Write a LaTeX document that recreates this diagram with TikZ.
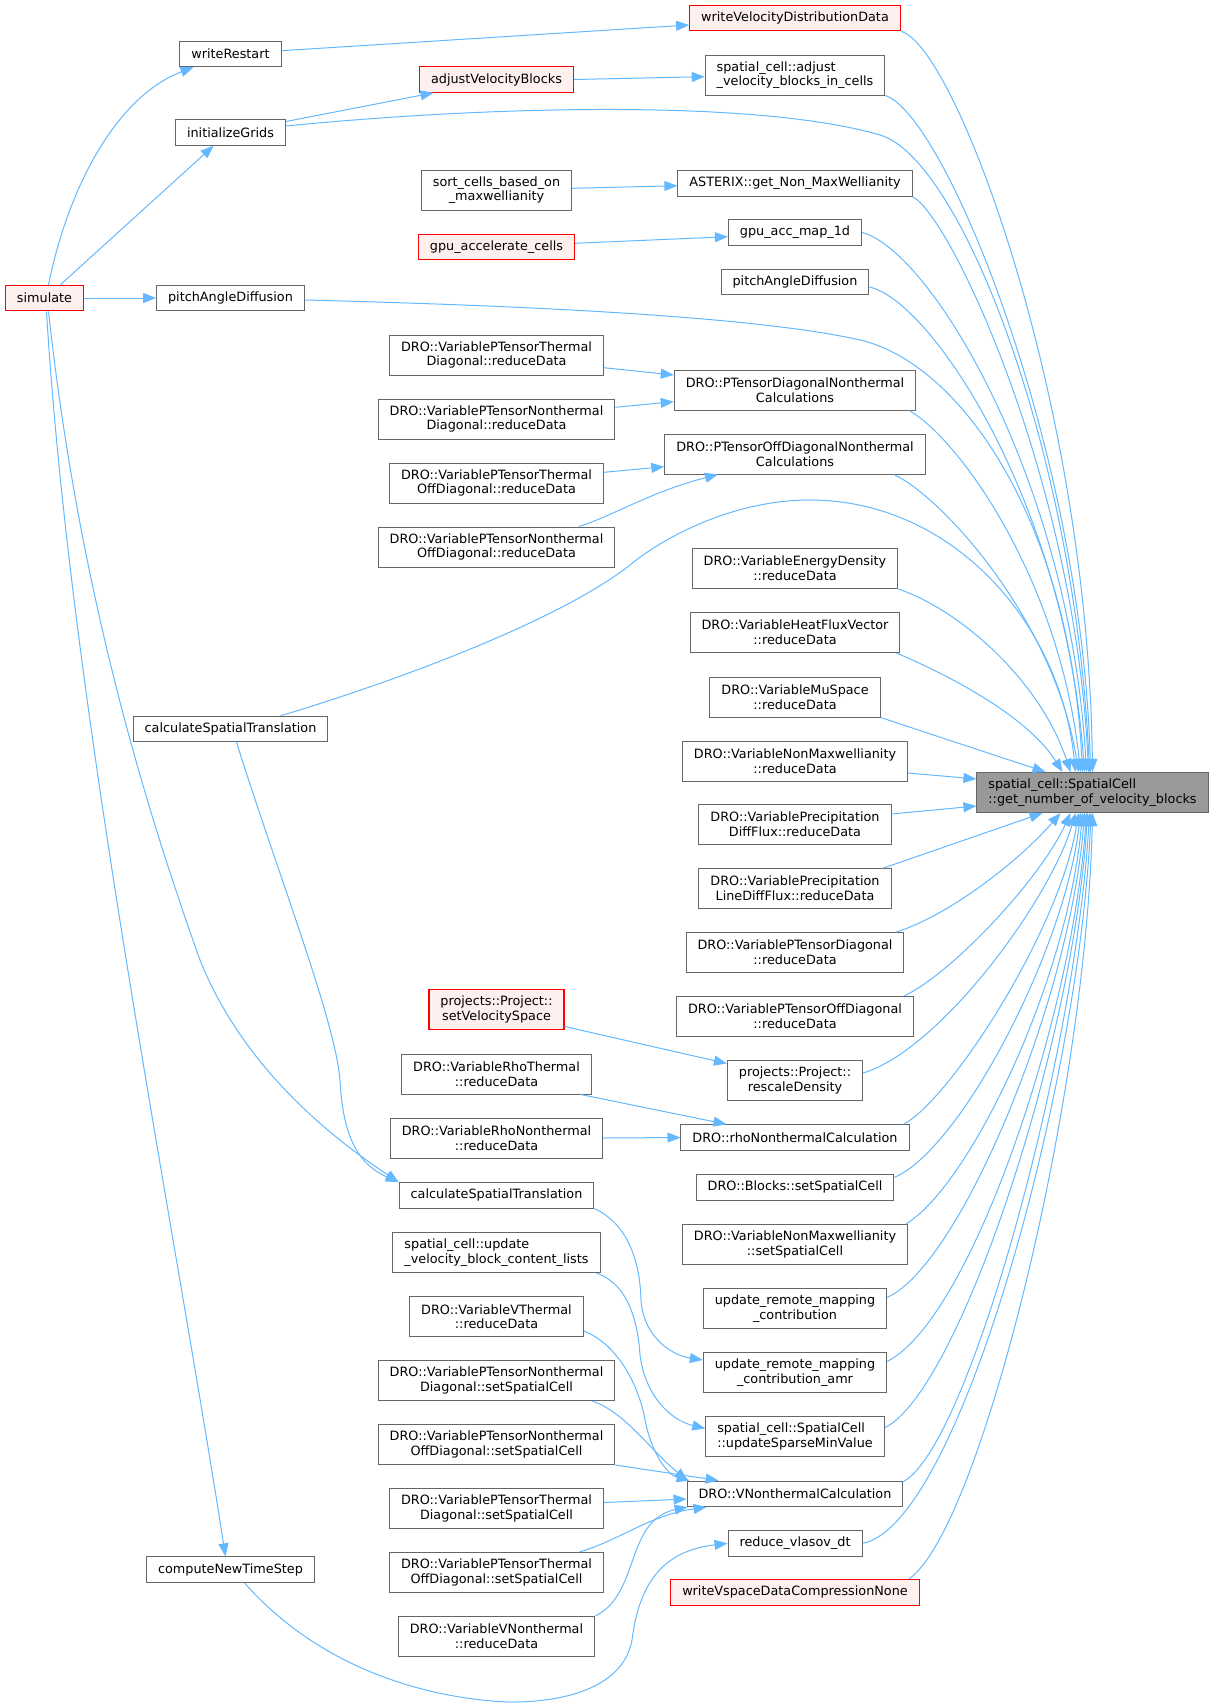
\documentclass[tikz,border=0pt]{standalone}
\usepackage{fontspec}
\setmainfont{DejaVu Sans}
\usetikzlibrary{arrows.meta}
\definecolor{edgeblue}{HTML}{63B8FF}
\definecolor{boxgrey}{HTML}{666666}
\definecolor{redfill}{HTML}{FFF0F0}
\definecolor{targetfill}{HTML}{999999}
\begin{document}
\begin{tikzpicture}[x=1pt,y=-1pt,>={Triangle[length=13pt,width=10pt]},
  box/.style={draw=boxgrey,line width=1pt,fill=white,font=\fontsize{12.8}{14.6}\selectfont,
    inner xsep=11.5pt,inner ysep=2pt,minimum height=25.5pt},
  twoline/.style={box,minimum height=40pt,align=center},
  leftline/.style={box,minimum height=40pt,align=left},
  redbox/.style={draw=red,fill=redfill,line width=1.2pt},
  call/.style={->,draw=edgeblue,line width=1pt}]

\useasboundingbox (0,0) rectangle (1216,1708);

\node[box,redbox] (simulate) at (44.5,298) {simulate};
\node[box] (writeRestart) at (230.5,54) {writeRestart};
\node[box] (initGrids) at (230.5,132.5) {initializeGrids};
\node[box] (pitchLeft) at (230.5,298) {pitchAngleDiffusion};
\node[box] (calcLeft) at (230.5,729) {calculateSpatialTranslation};
\node[box] (newTimeStep) at (230.5,1569.6) {computeNewTimeStep};

\node[box,redbox] (adjBlocks) at (496.5,79.5) {adjustVelocityBlocks};
\node[twoline] (sortCells) at (496.5,190) {sort\_cells\_based\_on\\\_maxwellianity};
\node[box,redbox] (gpuCells) at (496.5,247) {gpu\_accelerate\_cells};
\node[twoline] (ptThDiagRed) at (496.5,355) {DRO::VariablePTensorThermal\\Diagonal::reduceData};
\node[twoline] (ptNthDiagRed) at (496.5,419) {DRO::VariablePTensorNonthermal\\Diagonal::reduceData};
\node[twoline] (ptThOffRed) at (496.5,483) {DRO::VariablePTensorThermal\\OffDiagonal::reduceData};
\node[twoline] (ptNthOffRed) at (496.5,547) {DRO::VariablePTensorNonthermal\\OffDiagonal::reduceData};
\node[twoline,redbox] (setVelSpace) at (496.5,1009.5) {projects::Project::\\setVelocitySpace};
\node[twoline] (rhoThRed) at (496.5,1074) {DRO::VariableRhoThermal\\::reduceData};
\node[twoline] (rhoNthRed) at (496.5,1138) {DRO::VariableRhoNonthermal\\::reduceData};
\node[box] (calcMid) at (496.5,1195.3) {calculateSpatialTranslation};
\node[leftline] (updContent) at (496.5,1252.6) {spatial\_cell::update\\\_velocity\_block\_content\_lists};
\node[twoline] (vThRed) at (496.5,1316.6) {DRO::VariableVThermal\\::reduceData};
\node[twoline] (ptNthDiagSet) at (496.5,1380.5) {DRO::VariablePTensorNonthermal\\Diagonal::setSpatialCell};
\node[twoline] (ptNthOffSet) at (496.5,1444.5) {DRO::VariablePTensorNonthermal\\OffDiagonal::setSpatialCell};
\node[twoline] (ptThDiagSet) at (496.5,1508.5) {DRO::VariablePTensorThermal\\Diagonal::setSpatialCell};
\node[twoline] (ptThOffSet) at (496.5,1572.5) {DRO::VariablePTensorThermal\\OffDiagonal::setSpatialCell};
\node[twoline] (vNthRed) at (496.5,1636.4) {DRO::VariableVNonthermal\\::reduceData};

\node[box,redbox] (writeVdd) at (795,18) {writeVelocityDistributionData};
\node[leftline] (adjCells) at (795,75) {spatial\_cell::adjust\\\_velocity\_blocks\_in\_cells};
\node[box] (asterix) at (795,183.5) {ASTERIX::get\_Non\_MaxWellianity};
\node[box] (gpuMap) at (795,232.5) {gpu\_acc\_map\_1d};
\node[box] (pitchRight) at (795,282) {pitchAngleDiffusion};
\node[twoline] (ptDiagCalc) at (795,390) {DRO::PTensorDiagonalNonthermal\\Calculations};
\node[twoline] (ptOffCalc) at (795,454) {DRO::PTensorOffDiagonalNonthermal\\Calculations};
\node[twoline] (energyRed) at (795,568.5) {DRO::VariableEnergyDensity\\::reduceData};
\node[twoline] (heatRed) at (795,632.5) {DRO::VariableHeatFluxVector\\::reduceData};
\node[twoline] (muRed) at (795,697) {DRO::VariableMuSpace\\::reduceData};
\node[twoline] (nonMaxRed) at (795,761) {DRO::VariableNonMaxwellianity\\::reduceData};
\node[twoline] (precipRed) at (795,824.5) {DRO::VariablePrecipitation\\DiffFlux::reduceData};
\node[twoline] (lineRed) at (795,888.5) {DRO::VariablePrecipitation\\LineDiffFlux::reduceData};
\node[twoline] (ptDiagRed) at (795,952.5) {DRO::VariablePTensorDiagonal\\::reduceData};
\node[twoline] (ptOffRed) at (795,1016.5) {DRO::VariablePTensorOffDiagonal\\::reduceData};
\node[twoline] (rescale) at (795,1080.5) {projects::Project::\\rescaleDensity};
\node[box] (rhoCalc) at (795,1137.5) {DRO::rhoNonthermalCalculation};
\node[box] (blocksSet) at (795,1187.3) {DRO::Blocks::setSpatialCell};
\node[twoline] (nonMaxSet) at (795,1244.4) {DRO::VariableNonMaxwellianity\\::setSpatialCell};
\node[twoline] (remoteMap) at (795,1308.5) {update\_remote\_mapping\\\_contribution};
\node[twoline] (remoteAmr) at (795,1372.5) {update\_remote\_mapping\\\_contribution\_amr};
\node[leftline] (sparseMin) at (795,1436.5) {spatial\_cell::SpatialCell\\::updateSparseMinValue};
\node[box] (vCalc) at (795,1493.8) {DRO::VNonthermalCalculation};
\node[box] (vlasovDt) at (795,1543.4) {reduce\_vlasov\_dt};
\node[box,redbox] (writeVspace) at (795,1592.4) {writeVspaceDataCompressionNone};

\node[leftline,fill=targetfill] (numBlocks) at (1092.5,792.5) {spatial\_cell::SpatialCell\\::get\_number\_of\_velocity\_blocks};

\draw[call] ([yshift=3.3]writeRestart.east) -- ([yshift=-7]writeVdd.west);
\draw[call] ([xshift=4]simulate.north) .. controls (70,180) and (120,95) .. ([xshift=-37]writeRestart.south);
\draw[call] ([xshift=16]simulate.north) -- ([xshift=-17]initGrids.south);
\draw[call] ([yshift=11]initGrids.east) -- ([xshift=-63]adjBlocks.south);
\draw[call] (adjBlocks.east) -- ([yshift=-1.7]adjCells.west);
\draw[call] ([yshift=1.7]sortCells.east) -- ([yshift=-2.2]asterix.west);
\draw[call] ([yshift=3.7]gpuCells.east) -- ([yshift=-4.2]gpuMap.west);
\draw[call] (simulate.east) -- (pitchLeft.west);
\draw[call] ([yshift=-12.7]ptThDiagRed.east) -- ([yshift=15]ptDiagCalc.west);
\draw[call] ([yshift=11.7]ptNthDiagRed.east) -- ([yshift=-11.7]ptDiagCalc.west);
\draw[call] ([yshift=10.7]ptThOffRed.east) -- ([yshift=-12.7]ptOffCalc.west);
\draw[call] ([xshift=82.5]ptNthOffRed.north) .. controls (615,515) and (650,492) .. ([xshift=-77]ptOffCalc.south);
\draw[call] ([yshift=-17]setVelSpace.east) -- ([yshift=17]rescale.west);
\draw[call] ([xshift=-11]rhoThRed.south east) -- ([xshift=46]rhoCalc.north west);
\draw[call] (rhoNthRed.east) -- (rhoCalc.west);
\draw[call] ([xshift=2]simulate.south) .. controls (70,700) and (170,1200) .. ([xshift=-5]newTimeStep.north);
\draw[call] ([xshift=4]simulate.south) .. controls (80,600) and (150,820) .. (200,960)
  .. controls (240,1060) and (320,1130) .. (calcMid.north west);
\draw[call] ([xshift=6]calcLeft.south) .. controls (280,880) and (335,1020) .. (340,1080)
  .. controls (343,1140) and (360,1165) .. (calcMid.north west);
\draw[call] (calcMid.south east) .. controls (630,1225) and (640,1265) .. (641,1300)
  .. controls (643,1335) and (670,1355) .. ([yshift=12.5]remoteAmr.west);
\draw[call] ([xshift=-4]updContent.south east) .. controls (630,1285) and (638,1325) .. (640,1355)
  .. controls (645,1395) and (670,1420) .. ([yshift=8]sparseMin.west);
\draw[call] ([yshift=-14.4]vThRed.east) .. controls (620,1345) and (640,1390) .. (645,1420)
  .. controls (652,1455) and (668,1475) .. ([xshift=3]vCalc.north west);
\draw[call] ([xshift=-23]ptNthDiagSet.south east) .. controls (625,1412) and (650,1450) .. ([xshift=1]vCalc.north west);
\draw[call] (ptNthOffSet.south east) -- ([xshift=32]vCalc.north west);
\draw[call] ([yshift=6]ptThDiagSet.east) -- ([yshift=-5.2]vCalc.west);
\draw[call] ([xshift=-24.5]ptThOffSet.north east) .. controls (620,1540) and (650,1515) .. ([xshift=20]vCalc.south west);
\draw[call] (vNthRed.north east) .. controls (640,1595) and (625,1520) .. ([xshift=1]vCalc.south west);
\draw[call] ([xshift=14]newTimeStep.south) .. controls (330,1680) and (450,1700) .. (510,1702)
  .. controls (580,1702) and (625,1680) .. (632,1640)
  .. controls (640,1575) and (670,1550) .. (vlasovDt.west);

\draw[call] (writeVdd.south east) .. controls (955,45) and (1088,400) .. (numBlocks.north);
\draw[call] (adjCells.south east) .. controls (945,115) and (1082,450) .. ([xshift=-2]numBlocks.north);
\draw[call] ([yshift=6.5]initGrids.east) .. controls (500,105) and (760,100) .. (880,135)
  .. controls (960,158) and (1075,450) .. ([xshift=-3]numBlocks.north);
\draw[call] (asterix.south east) .. controls (950,215) and (1075,480) .. ([xshift=-4]numBlocks.north);
\draw[call] (gpuMap.east) .. controls (930,250) and (1070,480) .. ([xshift=-6]numBlocks.north);
\draw[call] ([yshift=-5]pitchRight.east) .. controls (930,300) and (1065,500) .. ([xshift=-8]numBlocks.north);
\draw[call] ([yshift=-2]pitchLeft.east) .. controls (500,305) and (750,315) .. (860,340)
  .. controls (960,363) and (1070,520) .. ([xshift=-10]numBlocks.north);
\draw[call] ([xshift=-7]ptDiagCalc.south east) .. controls (960,440) and (1060,580) .. ([xshift=-12]numBlocks.north);
\draw[call] ([xshift=-32]ptOffCalc.south east) .. controls (940,495) and (1055,620) .. ([xshift=-14]numBlocks.north);
\draw[call] ([xshift=50]calcLeft.north) .. controls (400,680) and (560,620) .. (630,565)
  .. controls (660,540) and (730,500) .. (810,500)
  .. controls (950,500) and (1060,620) .. ([xshift=-17]numBlocks.north);
\draw[call] (energyRed.south east) .. controls (960,610) and (1040,680) .. ([xshift=-22]numBlocks.north);
\draw[call] ([xshift=-4]heatRed.south east) .. controls (960,680) and (1030,720) .. ([xshift=-30]numBlocks.north);
\draw[call] (muRed.south east) -- ([xshift=-47]numBlocks.north);
\draw[call] ([yshift=-12]nonMaxRed.east) -- ([yshift=13.5]numBlocks.west);
\draw[call] ([yshift=10.5]precipRed.east) -- ([yshift=-13.5]numBlocks.west);
\draw[call] ([xshift=-8]lineRed.north east) -- ([xshift=-50]numBlocks.south);
\draw[call] ([xshift=-8]ptDiagRed.north east) .. controls (950,915) and (1020,860) .. ([xshift=-32]numBlocks.south);
\draw[call] ([xshift=-10]ptOffRed.north east) .. controls (950,975) and (1040,880) .. ([xshift=-22]numBlocks.south);
\draw[call] ([yshift=7.5]rescale.east) .. controls (940,1050) and (1050,900) .. ([xshift=-17]numBlocks.south);
\draw[call] ([xshift=-6]rhoCalc.north east) .. controls (950,1100) and (1060,930) .. ([xshift=-14]numBlocks.south);
\draw[call] ([yshift=-3.3]blocksSet.north east) .. controls (960,1150) and (1065,950) .. ([xshift=-12]numBlocks.south);
\draw[call] ([xshift=-2]nonMaxSet.north east) .. controls (970,1185) and (1068,980) .. ([xshift=-10]numBlocks.south);
\draw[call] ([yshift=-9.4]remoteMap.north east) .. controls (960,1265) and (1070,1000) .. ([xshift=-8]numBlocks.south);
\draw[call] ([yshift=-9.4]remoteAmr.north east) .. controls (970,1320) and (1072,1020) .. ([xshift=-6]numBlocks.south);
\draw[call] ([yshift=-11.8]sparseMin.north east) .. controls (960,1390) and (1074,1040) .. ([xshift=-5]numBlocks.south);
\draw[call] ([yshift=-1]vCalc.north east) .. controls (970,1445) and (1076,1050) .. ([xshift=-3]numBlocks.south);
\draw[call] (vlasovDt.east) .. controls (960,1525) and (1080,1080) .. ([xshift=-1.5]numBlocks.south);
\draw[call] ([xshift=-11]writeVspace.north east) .. controls (980,1530) and (1086,1100) .. (numBlocks.south);

\end{tikzpicture}
\end{document}
